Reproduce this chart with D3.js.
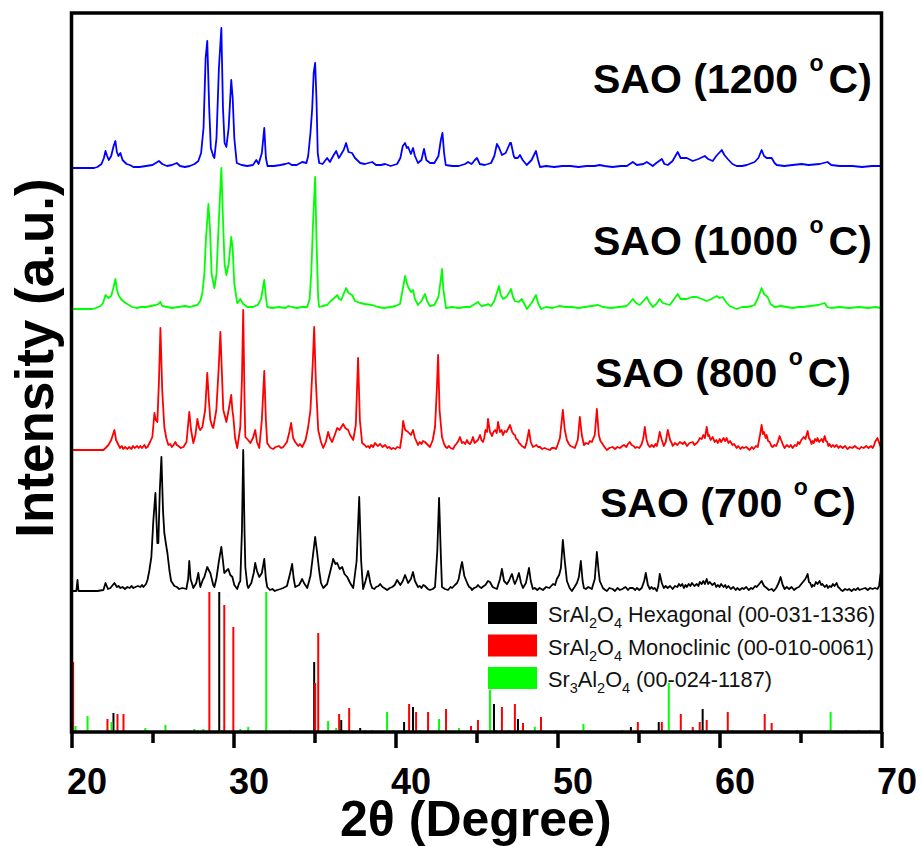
<!DOCTYPE html>
<html><head><meta charset="utf-8">
<script src="https://cdn.jsdelivr.net/npm/d3@7"></script>
<style>body{margin:0;background:#fff;} svg{display:block;font-family:"Liberation Sans",Arial,sans-serif;}</style>
</head><body><svg id="chart" width="922" height="846"></svg>
<script>
// ---------- data ----------
const xTicks = [20, 30, 40, 50, 60, 70];
const xMinorTicks = [25, 35, 45, 55, 65];
const sampleNames = ["1200", "1000", "800", "700"];
const sampleColors = ["#0000ff", "#00ff00", "#ff0000", "#000000"];
const sampleOffsets = [564, 423, 282, 141];

const t1200 = [[20.0,0],[21.4,0],[21.6,1],[21.85,4],[22.0,10],[22.1,17],[22.2,12],[22.3,8],[22.45,12],[22.6,22],[22.71,27],[22.8,16],[22.9,12],[23.02,15],[23.15,8],[23.4,4],[23.6,3],[23.82,1],[24.2,1],[24.6,2],[25.0,3],[25.2,5],[25.4,7],[25.6,4],[25.9,2],[26.2,3],[26.5,5],[26.7,2],[27.0,1],[27.3,2],[27.6,4],[27.83,7],[28.0,15],[28.15,40],[28.28,110],[28.38,127],[28.5,60],[28.6,20],[28.75,12],[28.82,10],[28.95,30],[29.1,100],[29.25,140],[29.35,60],[29.45,25],[29.56,21],[29.7,40],[29.86,88],[29.95,70],[30.05,30],[30.2,5],[30.5,3],[30.85,2],[31.2,3],[31.41,8],[31.55,4],[31.75,15],[31.9,40],[32.0,10],[32.1,2],[32.5,2],[32.9,3],[33.2,4],[33.4,5],[33.6,3],[33.9,3],[34.24,6],[34.5,5],[34.61,12],[34.75,35],[34.86,60],[34.95,95],[35.04,105],[35.12,70],[35.2,15],[35.29,5],[35.5,4],[35.78,10],[35.95,6],[36.15,12],[36.34,17],[36.5,10],[36.58,12],[36.8,18],[36.95,25],[37.1,16],[37.32,15],[37.5,10],[37.82,5],[38.1,4],[38.56,6],[38.8,3],[39.1,3],[39.36,4],[39.7,2],[40.1,4],[40.3,10],[40.45,22],[40.59,25],[40.7,20],[40.78,21],[40.95,14],[41.08,20],[41.2,12],[41.39,5],[41.6,8],[41.76,19],[41.9,8],[42.13,5],[42.4,5],[42.65,12],[42.8,28],[42.9,35],[43.0,15],[43.1,3],[43.5,2],[43.9,2],[44.3,4],[44.48,6],[44.7,4],[44.9,8],[45.03,10],[45.2,4],[45.5,3],[45.71,4],[45.9,5],[46.1,12],[46.26,24],[46.4,20],[46.57,13],[46.8,15],[47.07,25],[47.13,25],[47.3,12],[47.37,10],[47.55,10],[47.68,13],[47.85,8],[48.1,3],[48.4,8],[48.67,17],[48.8,8],[48.92,1],[49.3,2],[49.8,1],[50.3,2],[50.8,2],[51.3,1],[51.8,2],[52.3,2],[52.6,3],[52.9,2],[53.4,1],[53.9,2],[54.28,2],[54.65,6],[54.9,3],[55.3,4],[55.51,6],[55.7,4],[55.88,2],[56.1,5],[56.44,9],[56.6,4],[56.81,3],[57.1,7],[57.42,16],[57.6,10],[57.98,10],[58.35,7],[58.7,9],[59.09,12],[59.3,9],[59.58,7],[59.8,12],[60.14,18],[60.3,13],[60.51,9],[60.8,4],[61.06,2],[61.4,2],[61.68,3],[62.17,6],[62.4,10],[62.6,18],[62.75,12],[62.91,10],[63.22,10],[63.4,5],[63.53,3],[64.0,2],[64.5,3],[65.07,4],[65.5,3],[66.18,4],[66.67,6],[66.9,3],[67.4,2],[68.21,2],[68.8,1],[69.4,2],[70.0,2]];

const t1000 = [[20.0,0],[21.3,0],[21.5,1],[21.79,3],[21.95,6],[22.1,14],[22.28,11],[22.45,13],[22.6,22],[22.71,30],[22.8,20],[22.9,14],[23.05,10],[23.33,6],[23.55,4],[23.76,2],[24.0,1],[24.3,2],[24.6,2],[24.9,3],[25.2,4],[25.36,5],[25.49,7],[25.6,3],[25.9,2],[26.2,1],[26.6,2],[27.0,3],[27.3,2],[27.5,3],[27.77,4],[27.95,8],[28.08,16],[28.2,35],[28.3,70],[28.45,105],[28.55,80],[28.65,35],[28.82,21],[28.95,35],[29.1,90],[29.25,141],[29.35,90],[29.45,45],[29.56,34],[29.7,45],[29.86,72],[29.95,60],[30.05,25],[30.23,6],[30.35,8],[30.42,10],[30.6,5],[30.85,2],[31.2,2],[31.5,4],[31.7,10],[31.9,29],[32.0,12],[32.08,2],[32.4,1],[32.8,2],[33.2,1],[33.38,3],[33.6,2],[33.9,1],[34.2,2],[34.55,2],[34.7,10],[34.8,36],[34.92,90],[35.04,132],[35.12,70],[35.23,10],[35.29,2],[35.5,3],[35.78,4],[36.0,8],[36.15,10],[36.3,12],[36.4,14],[36.52,10],[36.65,9],[36.8,15],[36.95,21],[37.1,16],[37.32,14],[37.5,8],[37.82,6],[38.1,5],[38.56,4],[38.9,2],[39.3,1],[39.7,2],[40.0,3],[40.28,5],[40.45,20],[40.59,33],[40.7,26],[40.78,22],[40.95,17],[41.08,19],[41.2,10],[41.39,4],[41.6,8],[41.82,15],[41.95,8],[42.13,3],[42.4,4],[42.65,12],[42.8,30],[42.87,40],[42.95,20],[43.12,1],[43.5,2],[43.9,1],[44.3,2],[44.6,2],[44.9,5],[45.09,7],[45.3,3],[45.6,4],[45.71,5],[45.9,3],[46.1,8],[46.39,23],[46.5,14],[46.63,10],[46.85,12],[47.07,18],[47.13,20],[47.25,12],[47.37,8],[47.6,7],[47.8,10],[47.99,4],[48.11,0],[48.4,6],[48.67,14],[48.8,6],[48.98,0],[49.3,2],[49.7,1],[50.1,3],[50.5,2],[50.9,2],[51.3,1],[51.7,2],[52.1,3],[52.49,4],[52.8,2],[53.3,1],[53.8,2],[54.28,3],[54.5,7],[54.65,10],[54.85,6],[55.08,4],[55.3,8],[55.51,12],[55.7,6],[55.88,2],[56.1,5],[56.31,10],[56.5,6],[56.93,4],[57.2,10],[57.42,15],[57.6,10],[57.98,10],[58.3,12],[58.59,12],[58.9,10],[59.21,8],[59.5,10],[59.83,13],[60.0,11],[60.2,12],[60.4,7],[60.63,3],[60.9,1],[61.06,0],[61.4,2],[61.68,2],[62.0,3],[62.17,4],[62.4,12],[62.6,21],[62.75,15],[62.97,12],[63.15,5],[63.4,2],[63.8,3],[64.51,1],[64.9,2],[65.13,2],[65.6,3],[66.1,4],[66.49,6],[66.65,2],[66.9,1],[67.4,2],[68.0,1],[68.6,2],[69.2,1],[69.6,2],[70.0,1]];

const t800 = [[20.0,0],[21.97,0],[22.1,2],[22.28,5],[22.45,10],[22.65,20],[22.75,10],[22.9,5],[23.0,2],[23.1,4],[23.2,1],[23.3,3],[23.45,1],[23.55,3],[23.7,1],[23.8,4],[23.9,2],[24.05,4],[24.15,2],[24.25,4],[24.35,2],[24.5,5],[24.6,2],[24.69,3],[24.85,8],[24.99,13],[25.12,37],[25.2,30],[25.3,28],[25.4,70],[25.49,122],[25.6,60],[25.73,23],[25.85,12],[25.98,5],[26.1,6],[26.2,3],[26.3,5],[26.41,8],[26.5,5],[26.6,4],[26.75,2],[26.91,3],[27.1,8],[27.27,38],[27.38,20],[27.52,7],[27.65,15],[27.77,31],[27.88,22],[27.95,20],[28.08,23],[28.25,40],[28.38,77],[28.48,50],[28.57,30],[28.68,24],[28.75,22],[28.94,40],[29.08,80],[29.19,118],[29.3,70],[29.37,40],[29.5,32],[29.56,28],[29.7,40],[29.86,55],[29.93,40],[29.99,33],[30.1,12],[30.23,2],[30.35,15],[30.42,23],[30.52,70],[30.6,140],[30.68,50],[30.73,13],[30.9,10],[31.04,7],[31.2,12],[31.34,20],[31.45,8],[31.59,2],[31.75,30],[31.9,79],[32.0,30],[32.08,7],[32.2,4],[32.3,2],[32.45,1],[32.6,3],[32.8,4],[32.95,2],[33.07,3],[33.3,8],[33.45,18],[33.56,27],[33.68,12],[33.81,8],[34.0,4],[34.1,6],[34.24,3],[34.45,10],[34.61,23],[34.75,40],[34.9,90],[34.98,123],[35.08,70],[35.23,20],[35.4,8],[35.54,2],[35.7,8],[35.84,18],[35.95,12],[36.09,8],[36.25,15],[36.4,22],[36.55,20],[36.77,26],[36.9,22],[37.08,20],[37.2,15],[37.39,10],[37.55,25],[37.69,92],[37.8,30],[37.94,7],[38.1,5],[38.2,3],[38.31,4],[38.4,2],[38.5,5],[38.62,3],[38.74,7],[38.9,4],[39.05,6],[39.2,3],[39.36,5],[39.5,2],[39.6,3],[39.75,1],[39.85,2],[40.0,1],[40.1,3],[40.28,2],[40.4,15],[40.47,29],[40.6,20],[40.78,18],[40.95,15],[41.08,20],[41.2,12],[41.39,5],[41.5,8],[41.6,6],[41.7,9],[41.82,8],[42.0,5],[42.13,3],[42.3,10],[42.44,23],[42.55,60],[42.63,95],[42.72,40],[42.87,13],[43.0,6],[43.1,3],[43.18,2],[43.3,4],[43.4,2],[43.55,1],[43.65,4],[43.75,6],[43.88,9],[43.98,13],[44.1,7],[44.2,8],[44.3,6],[44.41,10],[44.5,7],[44.6,6],[44.7,9],[44.78,13],[44.88,7],[44.95,8],[45.09,10],[45.22,15],[45.3,10],[45.4,8],[45.48,12],[45.55,20],[45.65,18],[45.71,31],[45.83,18],[45.9,16],[45.96,14],[46.05,18],[46.15,20],[46.25,17],[46.33,28],[46.45,18],[46.55,20],[46.63,15],[46.75,19],[46.85,18],[46.95,21],[47.07,25],[47.2,18],[47.28,16],[47.37,15],[47.45,11],[47.55,10],[47.62,7],[47.7,6],[47.8,4],[47.9,3],[47.99,2],[48.1,8],[48.24,20],[48.35,8],[48.48,3],[48.6,4],[48.7,5],[48.8,3],[48.92,3],[49.05,1],[49.2,2],[49.35,1],[49.53,0],[49.65,2],[49.8,2],[49.9,1],[49.96,3],[50.15,12],[50.33,40],[50.45,20],[50.58,10],[50.7,6],[50.8,4],[50.95,3],[51.07,2],[51.25,10],[51.38,33],[51.5,15],[51.63,5],[51.75,7],[51.9,6],[52.0,9],[52.12,8],[52.3,15],[52.43,41],[52.55,15],[52.65,9],[52.74,7],[52.9,3],[53.05,0],[53.2,2],[53.4,3],[53.55,1],[53.7,3],[53.85,2],[54.0,4],[54.1,5],[54.25,3],[54.35,6],[54.46,8],[54.58,5],[54.7,4],[54.8,2],[54.9,3],[55.05,2],[55.2,6],[55.3,12],[55.39,23],[55.5,10],[55.6,5],[55.7,3],[55.82,5],[55.95,3],[56.05,6],[56.13,4],[56.22,10],[56.31,18],[56.44,10],[56.56,4],[56.68,8],[56.81,20],[56.95,10],[57.05,7],[57.11,4],[57.25,7],[57.4,5],[57.55,8],[57.73,6],[57.85,8],[58.0,4],[58.15,7],[58.35,8],[58.45,5],[58.6,7],[58.7,9],[58.78,12],[58.9,11],[59.0,15],[59.1,12],[59.21,23],[59.3,14],[59.35,15],[59.45,10],[59.58,13],[59.7,8],[59.8,10],[59.9,7],[60.01,11],[60.1,8],[60.25,12],[60.35,9],[60.44,12],[60.55,7],[60.65,9],[60.8,5],[60.9,6],[61.06,2],[61.15,4],[61.3,1],[61.4,3],[61.5,2],[61.65,3],[61.86,0],[62.0,3],[62.1,1],[62.25,4],[62.36,3],[62.5,15],[62.6,25],[62.68,16],[62.75,18],[62.85,12],[62.91,15],[63.0,9],[63.1,8],[63.2,4],[63.28,3],[63.4,5],[63.5,4],[63.6,8],[63.71,14],[63.85,8],[63.95,4],[64.02,2],[64.15,5],[64.3,3],[64.4,5],[64.51,2],[64.65,5],[64.76,4],[64.85,8],[64.94,6],[65.05,10],[65.2,13],[65.3,11],[65.44,19],[65.52,12],[65.6,10],[65.68,6],[65.75,9],[65.82,7],[65.9,11],[66.0,9],[66.05,12],[66.15,8],[66.3,11],[66.4,8],[66.49,14],[66.58,9],[66.65,8],[66.72,4],[66.79,6],[66.9,3],[67.0,5],[67.1,3],[67.23,5],[67.35,2],[67.45,4],[67.6,2],[67.75,4],[67.9,1],[68.05,3],[68.2,2],[68.35,4],[68.5,2],[68.64,1],[68.75,3],[68.9,2],[69.05,4],[69.2,2],[69.35,4],[69.45,2],[69.55,5],[69.6,8],[69.75,12],[69.9,5],[70.0,1]];

const t700 = [[20.0,0],[20.3,0],[20.37,11],[20.43,0],[21.0,0],[21.6,0],[21.97,1],[22.1,8],[22.25,2],[22.4,3],[22.65,8],[22.8,4],[22.9,5],[23.02,3],[23.15,4],[23.3,2],[23.45,4],[23.6,3],[23.7,5],[23.82,3],[23.95,4],[24.1,5],[24.25,4],[24.35,6],[24.44,4],[24.6,7],[24.69,11],[24.8,20],[24.93,34],[25.05,70],[25.18,98],[25.3,48],[25.36,48],[25.45,100],[25.55,134],[25.65,80],[25.73,58],[25.85,45],[25.92,38],[26.05,20],[26.15,10],[26.23,8],[26.35,5],[26.5,4],[26.65,2],[26.84,3],[27.09,2],[27.2,12],[27.27,30],[27.35,12],[27.52,3],[27.7,8],[27.83,18],[27.95,4],[28.1,11],[28.2,14],[28.38,24],[28.5,20],[28.57,18],[28.75,6],[28.82,4],[28.95,13],[29.1,30],[29.25,44],[29.35,30],[29.43,18],[29.55,20],[29.68,22],[29.8,16],[29.93,14],[30.05,6],[30.23,2],[30.35,8],[30.42,10],[30.52,60],[30.6,141],[30.68,60],[30.73,24],[30.85,6],[30.91,3],[31.1,8],[31.25,18],[31.34,28],[31.45,20],[31.59,14],[31.75,18],[31.9,32],[32.0,12],[32.08,4],[32.25,1],[32.4,2],[32.55,0],[32.7,1],[32.9,2],[33.07,3],[33.3,5],[33.5,18],[33.62,27],[33.72,12],[33.81,4],[34.05,6],[34.24,12],[34.35,8],[34.55,3],[34.75,15],[34.9,35],[35.04,54],[35.15,40],[35.29,20],[35.4,8],[35.54,3],[35.78,7],[35.95,18],[36.1,28],[36.15,32],[36.3,27],[36.4,28],[36.55,22],[36.71,24],[36.85,17],[37.02,14],[37.2,8],[37.39,3],[37.6,30],[37.76,94],[37.88,30],[38.0,2],[38.15,10],[38.31,20],[38.45,8],[38.56,3],[38.7,2],[38.8,4],[38.95,5],[39.05,7],[39.2,4],[39.3,3],[39.48,1],[39.65,3],[39.8,4],[39.95,6],[40.1,11],[40.3,6],[40.45,10],[40.59,16],[40.78,8],[40.95,12],[41.08,19],[41.2,10],[41.39,4],[41.5,5],[41.6,3],[41.72,6],[41.82,5],[42.0,2],[42.13,1],[42.3,2],[42.44,4],[42.58,40],[42.69,93],[42.8,35],[42.87,4],[43.05,2],[43.24,1],[43.4,4],[43.5,3],[43.67,6],[43.8,8],[43.9,12],[44.05,25],[44.11,29],[44.25,15],[44.35,11],[44.45,7],[44.55,4],[44.65,3],[44.72,1],[44.85,3],[45.0,4],[45.09,6],[45.2,4],[45.3,3],[45.45,5],[45.55,6],[45.71,10],[45.83,9],[46.0,4],[46.12,3],[46.26,2],[46.45,12],[46.57,22],[46.7,10],[46.88,7],[47.0,10],[47.13,15],[47.19,17],[47.3,10],[47.37,7],[47.5,12],[47.62,18],[47.75,8],[47.87,3],[48.05,8],[48.24,23],[48.35,10],[48.48,2],[48.6,3],[48.75,1],[48.9,3],[49.1,1],[49.3,4],[49.5,3],[49.72,7],[49.85,6],[49.96,12],[50.1,16],[50.21,23],[50.33,51],[50.45,30],[50.58,10],[50.75,3],[50.89,0],[51.05,4],[51.2,8],[51.32,14],[51.44,30],[51.55,10],[51.63,3],[51.75,2],[51.9,4],[52.12,2],[52.3,12],[52.43,39],[52.55,18],[52.61,10],[52.8,3],[52.95,1],[53.05,0],[53.2,3],[53.4,2],[53.55,0],[53.7,3],[53.85,1],[54.0,2],[54.2,4],[54.35,1],[54.46,3],[54.65,3],[54.8,1],[54.9,3],[55.05,1],[55.2,3],[55.35,10],[55.45,18],[55.58,6],[55.7,2],[55.8,4],[55.9,2],[56.0,3],[56.13,0],[56.22,5],[56.31,17],[56.44,8],[56.56,3],[56.68,5],[56.8,3],[56.95,5],[57.11,2],[57.25,5],[57.4,4],[57.5,7],[57.6,5],[57.7,7],[57.8,3],[57.9,6],[57.98,4],[58.1,7],[58.2,5],[58.3,8],[58.45,5],[58.6,7],[58.7,5],[58.78,9],[58.9,7],[59.0,10],[59.1,7],[59.21,12],[59.3,7],[59.4,9],[59.55,6],[59.7,8],[59.8,4],[59.9,6],[60.0,4],[60.1,7],[60.25,4],[60.35,6],[60.44,3],[60.55,5],[60.7,2],[60.85,4],[61.0,1],[61.1,3],[61.25,1],[61.4,3],[61.5,2],[61.65,4],[61.8,1],[61.95,3],[62.05,2],[62.2,5],[62.3,4],[62.45,7],[62.6,10],[62.75,5],[62.91,3],[63.05,1],[63.22,2],[63.35,0],[63.5,3],[63.65,8],[63.77,14],[63.9,6],[64.02,2],[64.15,4],[64.3,2],[64.45,4],[64.6,1],[64.76,3],[64.9,4],[65.0,6],[65.15,9],[65.3,12],[65.44,17],[65.52,9],[65.6,8],[65.7,4],[65.75,6],[65.85,5],[65.95,9],[66.05,7],[66.18,10],[66.28,6],[66.35,7],[66.5,4],[66.61,6],[66.7,3],[66.8,5],[66.9,4],[67.0,7],[67.1,5],[67.23,8],[67.32,4],[67.4,3],[67.5,1],[67.6,0],[67.75,2],[67.9,1],[68.0,2],[68.15,0],[68.3,2],[68.4,1],[68.55,3],[68.64,1],[68.8,2],[69.0,3],[69.15,1],[69.3,3],[69.45,2],[69.6,3],[69.75,2],[69.85,5],[69.94,17],[70.0,3]];

// reference patterns: [2theta, relative intensity]
const refHexagonal = [[22.59,19],[29.12,140],[34.98,70],[36.65,12],[37.82,4],[40.53,10],[41.08,25],[46.08,28],[47.56,13],[54.53,5],[56.25,10],[58.96,23]];
const refMonoclinic = [[20.1,70],[22.22,13],[22.84,18],[23.21,18],[28.51,140],[29.43,127],[29.99,105],[35.04,49],[35.23,99],[36.52,18],[37.14,24],[40.84,28],[41.27,20],[42.01,20],[43.12,23],[44.66,6],[45.09,12],[46.57,25],[47.37,28],[47.87,9],[48.98,15],[54.96,10],[56.44,10],[57.61,18],[58.35,5],[58.78,10],[59.21,12],[60.51,20],[62.79,18],[63.22,9]];
const refSr3 = [[20.25,6],[20.99,16],[22.47,10],[24.56,4],[25.8,7],[27.58,3],[28.14,3],[29.31,2],[30.42,3],[30.91,5],[32.02,140],[33.5,2],[35.84,11],[36.34,4],[36.77,2],[38.13,2],[38.56,2],[39.48,20],[39.85,2],[40.72,2],[41.52,2],[42.69,13],[43.92,4],[45.83,42],[46.2,2],[47.0,2],[48.6,5],[49.9,2],[51.6,8],[52.0,2],[54.0,2],[55.2,2],[56.87,49],[57.6,2],[58.9,2],[59.2,2],[60.8,2],[63.8,2],[64.8,2],[66.86,20],[67.8,2],[68.6,2],[69.3,2]];
const refColors = ["#000000", "#ff0000", "#00ff00"];

// ---------- drawing ----------
const svg = d3.select("#chart");
const pLeft = 71.5, pRight = 881.5, pTop = 13, pBottom = 732;
const x = d3.scaleLinear().domain([20, 70]).range([pLeft, pRight]);
const y = d3.scaleLinear().domain([0, 719]).range([pBottom, pTop]);

const traces = [t1200, t1000, t800, t700];
const line = d3.line().x(d => x(d[0])).y(d => y(d[1]));

const plot = svg.append("g");
[refHexagonal, refMonoclinic, refSr3].forEach((ref, i) => {
  plot.append("g").selectAll("line").data(ref).join("line")
    .attr("x1", d => x(d[0])).attr("x2", d => x(d[0]))
    .attr("y1", y(0)).attr("y2", d => y(d[1]))
    .attr("stroke", refColors[i]).attr("stroke-width", 2);
});
traces.forEach((t, i) => {
  plot.append("path")
    .datum(t.map(d => [d[0], d[1] + sampleOffsets[i]]))
    .attr("d", line)
    .attr("fill", "none")
    .attr("stroke", sampleColors[i])
    .attr("stroke-width", 1.8)
    .attr("stroke-linejoin", "round");
});

svg.append("rect").attr("x", pLeft).attr("y", pTop)
  .attr("width", pRight - pLeft).attr("height", pBottom - pTop)
  .attr("fill", "none").attr("stroke", "#000").attr("stroke-width", 3.5);

const ax = svg.append("g").attr("transform", `translate(0,${pBottom})`)
  .call(d3.axisBottom(x).tickValues(xTicks).tickSize(16).tickFormat(d3.format("d")));
ax.select(".domain").remove();
ax.selectAll(".tick line").attr("stroke", "#000").attr("stroke-width", 3.5);
ax.selectAll(".tick text").attr("x", 15).attr("y", 62).attr("dy", null)
  .attr("fill", "#000").style("font-size", "36px").style("font-weight", "bold")
  .style("font-family", '"Liberation Sans", Arial, sans-serif');
const axm = svg.append("g").attr("transform", `translate(0,${pBottom})`)
  .call(d3.axisBottom(x).tickValues(xMinorTicks).tickSize(11).tickFormat(""));
axm.select(".domain").remove();
axm.selectAll(".tick line").attr("stroke", "#000").attr("stroke-width", 3.5);

svg.append("text").attr("x", 340).attr("y", 836)
  .style("font-size", "50px").style("font-weight", "bold").text("2θ (Degree)");
svg.append("text").attr("transform", "translate(53,358) rotate(-90)")
  .attr("text-anchor", "middle")
  .style("font-size", "53px").style("font-weight", "bold").text("Intensity (a.u.)");

const labelPos = [[593, 93], [593, 255], [595, 387], [600, 517]];
sampleNames.forEach((n, i) => {
  const t = svg.append("text").attr("x", labelPos[i][0]).attr("y", labelPos[i][1])
    .style("font-size", "41px").style("font-weight", "bold");
  t.append("tspan").text(`SAO (${n} `);
  t.append("tspan").attr("dy", -22).style("font-size", "23px").text("o");
  t.append("tspan").attr("dy", 22).attr("dx", 5).text("C)");
});

const legendItems = [
  [["SrAl", 0], ["2", 1], ["O", 0], ["4", 1], [" Hexagonal (00-031-1336)", 0]],
  [["SrAl", 0], ["2", 1], ["O", 0], ["4", 1], [" Monoclinic (00-010-0061)", 0]],
  [["Sr", 0], ["3", 1], ["Al", 0], ["2", 1], ["O", 0], ["4", 1], [" (00-024-1187)", 0]]
];
const lg = svg.append("g");
legendItems.forEach((parts, i) => {
  const yy = 602 + i * 32.5;
  lg.append("rect").attr("x", 488).attr("y", yy).attr("width", 49).attr("height", 22)
    .attr("fill", refColors[i]);
  const t = lg.append("text").attr("x", 548).attr("y", yy + 20).style("font-size", "21.7px").attr("fill", "#111");
  let sub = 0;
  parts.forEach(([s, isSub]) => {
    const dy = isSub && !sub ? 6 : (!isSub && sub ? -6 : 0);
    t.append("tspan").attr("dy", dy).style("font-size", isSub ? "14.5px" : "21.7px").text(s);
    sub = isSub;
  });
});
</script></body></html>
